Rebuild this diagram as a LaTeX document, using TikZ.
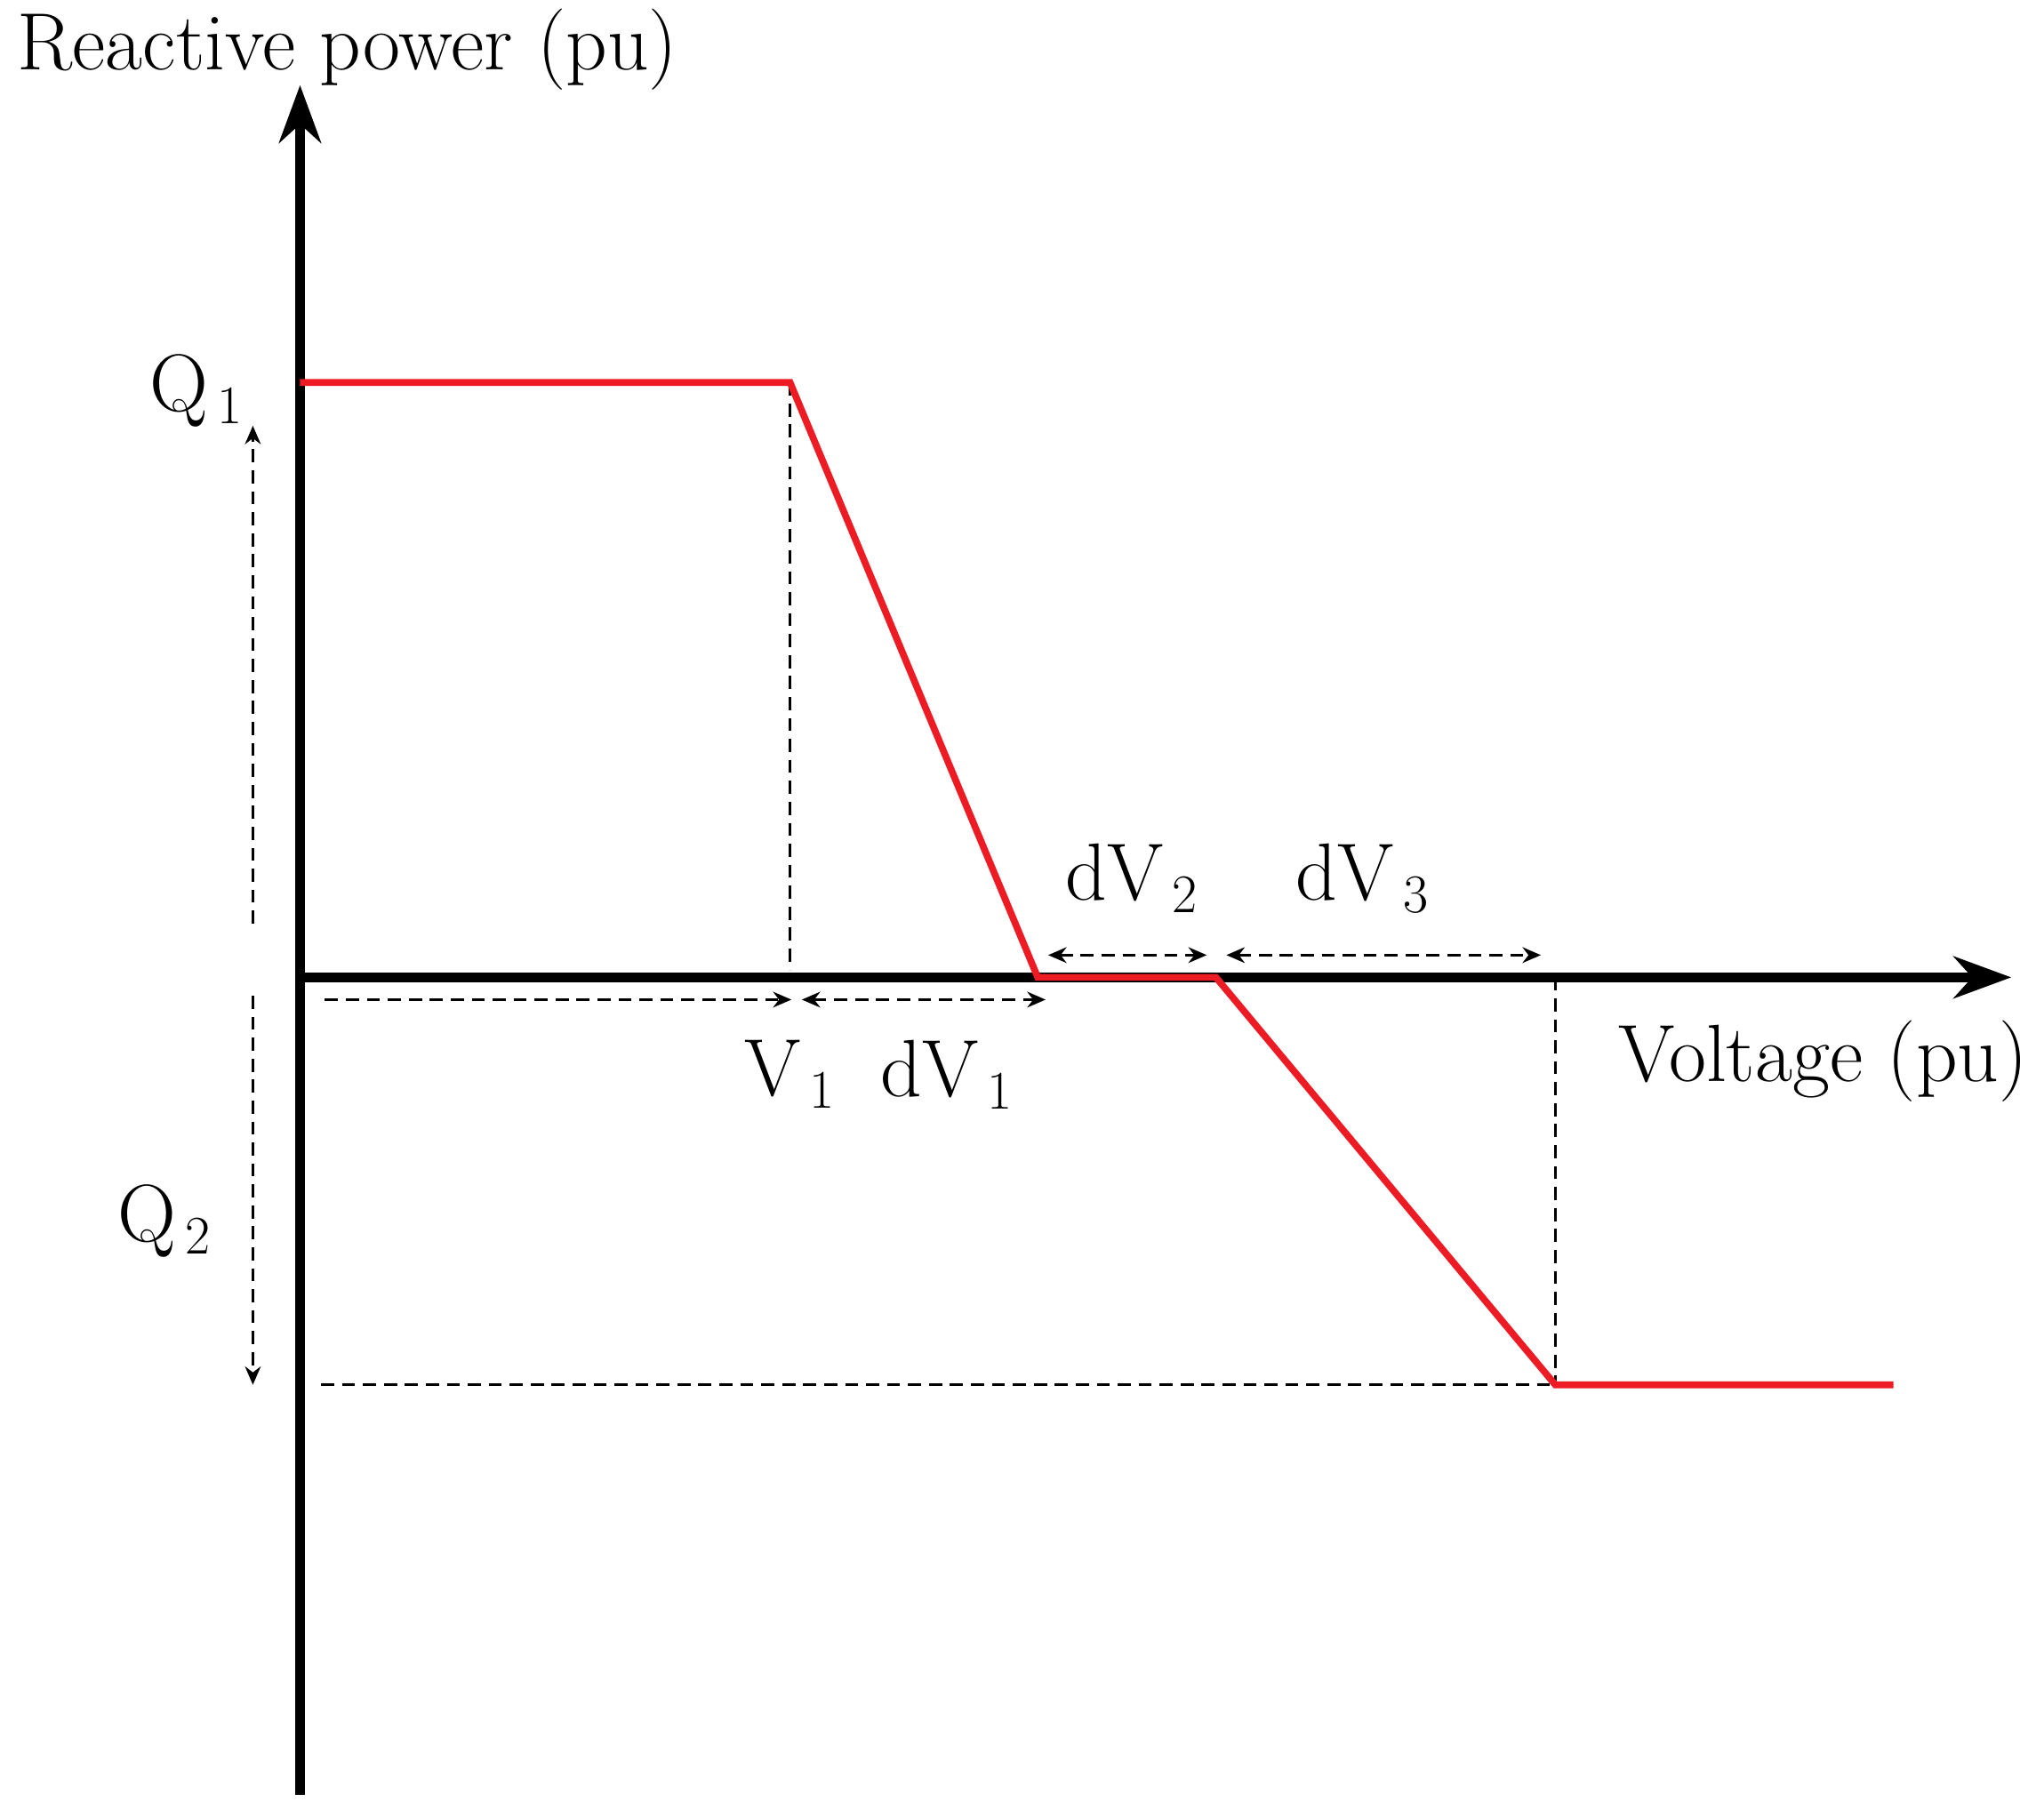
\documentclass[tikz,border=0pt]{standalone}
\usetikzlibrary{arrows.meta}
\definecolor{cred}{RGB}{237,28,36}
\begin{document}
\begin{tikzpicture}[x=0.5pt,y=-0.5pt,
  ax/.style={line width=3.5pt,-{Stealth[length=22pt,width=16pt]}},
  curve/.style={line width=2.6pt,cred,line join=miter},
  dsh/.style={line width=1pt,dash pattern=on 5pt off 3pt},
  da/.style={dsh,{Stealth[length=7pt,width=6pt]}-{Stealth[length=7pt,width=6pt]}},
  sa/.style={dsh,-{Stealth[length=7pt,width=6pt]}},
  lbl/.style={font=\fontsize{31}{37}\selectfont,inner sep=0pt}]
\useasboundingbox (0,0) rectangle (1560,1381);
\coordinate (o) at (229,746);
\coordinate (ybot) at (229,1370);
\coordinate (ytop) at (229,65);
\coordinate (xtip) at (1535,746);
\draw[ax] (ybot) -- (ytop);
\draw[ax] (o) -- (xtip);
\coordinate (a) at (229,292); \coordinate (b) at (603,292);
\coordinate (c) at (792,746); \coordinate (d) at (928,746);
\coordinate (e) at (1187,1057); \coordinate (f) at (1445,1057);
\coordinate (b0) at (603,740); \coordinate (e0) at (1187,746);
\coordinate (h0) at (245,1057);
\draw[dsh] (b) -- (b0);
\draw[dsh] (e0) -- (e);
\draw[dsh] (h0) -- (e);
\draw[curve] (a) -- (b) -- (c) -- (d) -- (e) -- (f);
\coordinate (q1s) at (193,705); \coordinate (q1e) at (193,325);
\coordinate (q2s) at (193,760); \coordinate (q2e) at (193,1057);
\draw[sa] (q1s) -- (q1e);
\draw[sa] (q2s) -- (q2e);
\coordinate (v1s) at (248,763); \coordinate (v1e) at (604,763);
\draw[sa] (v1s) -- (v1e);
\coordinate (d1s) at (612,763); \coordinate (d1e) at (798,763);
\draw[da] (d1s) -- (d1e);
\coordinate (d2s) at (800,729); \coordinate (d2e) at (921,729);
\draw[da] (d2s) -- (d2e);
\coordinate (d3s) at (936,729); \coordinate (d3e) at (1176,729);
\draw[da] (d3s) -- (d3e);
\node[lbl,anchor=west] (ttl) at (13,38) {Reactive power (pu)};
\node[lbl,anchor=east] (xl) at (1548,810) {Voltage (pu)};
\node[lbl] (Q1) at (150,298) {Q$_{\,1}$};
\node[lbl] (Q2) at (126,932) {Q$_{\,2}$};
\node[lbl] (V1) at (603,820) {V$_{\,1}$};
\node[lbl] (dV1) at (723,820) {dV$_{\,1}$};
\node[lbl] (dV2) at (864,670) {dV$_{\,2}$};
\node[lbl] (dV3) at (1040,670) {dV$_{\,3}$};
\end{tikzpicture}
\end{document}
